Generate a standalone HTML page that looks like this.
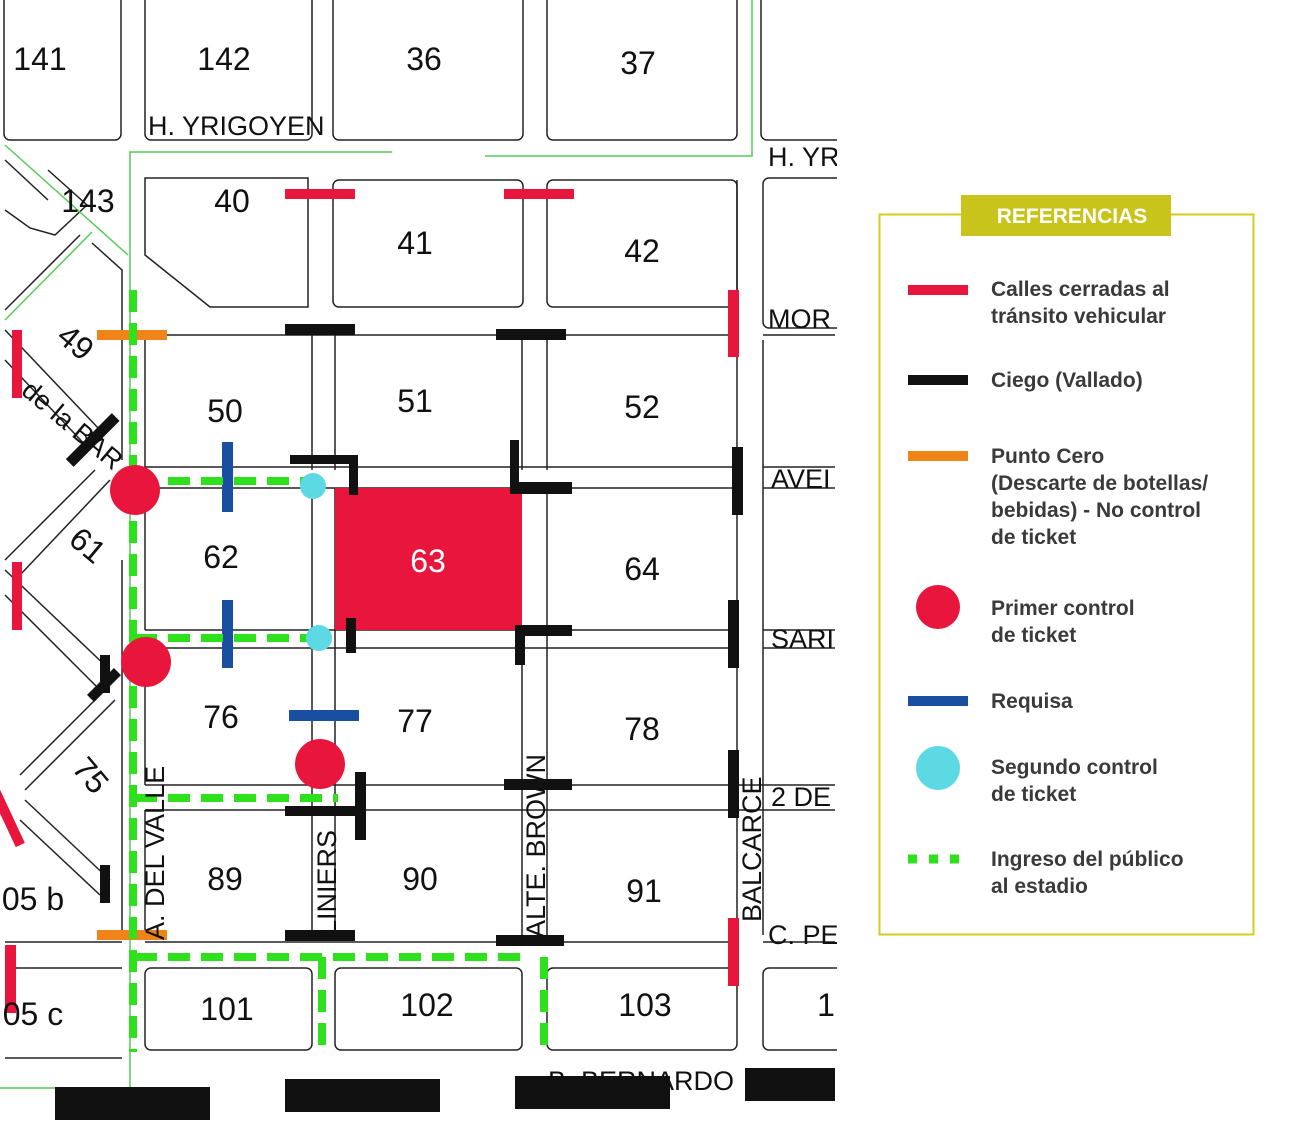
<!DOCTYPE html>
<html><head><meta charset="utf-8"><style>
html,body{margin:0;padding:0;background:#fff;}
body{width:1299px;height:1128px;overflow:hidden;position:relative;font-family:"Liberation Sans",sans-serif;}
svg{position:absolute;left:0;top:0;}
</style></head><body>
<svg width="1299" height="1128" viewBox="0 0 1299 1128" font-family="Liberation Sans, sans-serif">
<g fill="none" stroke="#222" stroke-width="1.5">
<rect x="4" y="-10" width="117" height="150" rx="6"/>
<rect x="145" y="-10" width="167" height="150" rx="6"/>
<rect x="333" y="-10" width="190" height="150" rx="6"/>
<rect x="547" y="-10" width="190" height="150" rx="6"/>
<rect x="761" y="-10" width="90" height="150" rx="6"/>
<path d="M145 178 H308 V307 H210 L145 255 Z"/>
<rect x="333" y="180" width="190" height="127" rx="6"/>
<rect x="547" y="180" width="190" height="127" rx="6"/>
<rect x="763" y="178" width="90" height="150" rx="6"/>
<path d="M48 170 L87 205 L55 235 L30 228 L5 210"/>
<path d="M5 160 L48 200"/>
<path d="M92 243 L122 270 V460"/>
<path d="M80 235 L5 310"/>
<line x1="145" y1="335" x2="737" y2="335"/>
<line x1="145" y1="335" x2="145" y2="470"/>
<line x1="312" y1="335" x2="312" y2="470"/>
<line x1="335" y1="335" x2="335" y2="470"/>
<line x1="522" y1="335" x2="522" y2="470"/>
<line x1="547" y1="335" x2="547" y2="470"/>
<line x1="737" y1="180" x2="737" y2="935"/>
<line x1="763" y1="340" x2="763" y2="935"/>
<line x1="145" y1="467" x2="737" y2="467"/>
<line x1="145" y1="488" x2="737" y2="488"/>
<line x1="145" y1="488" x2="145" y2="630"/>
<line x1="312" y1="488" x2="312" y2="935"/>
<line x1="335" y1="488" x2="335" y2="935"/>
<line x1="547" y1="488" x2="547" y2="935"/>
<line x1="522" y1="630" x2="522" y2="935"/>
<line x1="145" y1="630" x2="737" y2="630"/>
<line x1="145" y1="648" x2="737" y2="648"/>
<line x1="145" y1="648" x2="145" y2="785"/>
<line x1="145" y1="785" x2="835" y2="785"/>
<line x1="145" y1="810" x2="835" y2="810"/>
<line x1="145" y1="810" x2="145" y2="935"/>
<line x1="145" y1="942" x2="737" y2="942"/>
<line x1="5" y1="942" x2="122" y2="942"/>
<line x1="5" y1="968" x2="122" y2="968"/>
<line x1="5" y1="1058" x2="122" y2="1058"/>
<line x1="122" y1="560" x2="122" y2="930"/>
<rect x="145" y="968" width="167" height="82" rx="6"/>
<rect x="335" y="968" width="187" height="82" rx="6"/>
<rect x="547" y="968" width="190" height="82" rx="6"/>
<rect x="763" y="968" width="90" height="82" rx="6"/>
<line x1="763" y1="335" x2="835" y2="335"/>
<line x1="763" y1="467" x2="835" y2="467"/>
<line x1="763" y1="488" x2="835" y2="488"/>
<line x1="763" y1="630" x2="835" y2="630"/>
<line x1="763" y1="648" x2="835" y2="648"/>
<line x1="763" y1="942" x2="835" y2="942"/>
<path d="M5 330 L100 430"/><path d="M5 360 L90 450"/>
<path d="M95 470 L5 560"/><path d="M110 480 L20 575"/>
<path d="M5 570 L110 670"/><path d="M5 595 L100 690"/>
<path d="M105 690 L20 775"/><path d="M115 700 L25 790"/>
<path d="M25 800 L110 880"/><path d="M20 820 L100 895"/>
</g>
<g stroke="#5c5" stroke-width="1.5" fill="none">
<path d="M130 1088 V152 H392"/>
<path d="M485 156 H752 V0"/>
<path d="M5 145 L128 255"/>
<path d="M92 232 L5 320"/>
<path d="M0 1088 H130"/>
</g>
<g fill="#e8163c">
<rect x="285" y="189" width="70" height="10"/>
<rect x="504" y="189" width="70" height="10"/>
<rect x="728" y="290" width="11" height="67"/>
<rect x="12" y="330" width="10" height="68"/>
<rect x="12" y="562" width="10" height="68"/>
<rect x="5" y="945" width="11" height="68"/>
<rect x="728" y="918" width="11" height="68"/>
<rect x="335" y="488" width="187" height="142"/>
</g>
<rect x="0" y="776" width="10" height="68" fill="#e8163c" transform="rotate(-25 15 810)"/>
<g fill="#111">
<rect x="285" y="324" width="70" height="11"/>
<rect x="496" y="329" width="70" height="11"/>
<rect x="732" y="447" width="11" height="68"/>
<rect x="728" y="600" width="11" height="68"/>
<rect x="728" y="750" width="11" height="68"/>
<rect x="504" y="779" width="68" height="11"/>
<rect x="285" y="806" width="70" height="10"/>
<rect x="355" y="772" width="11" height="68"/>
<rect x="285" y="930" width="70" height="11"/>
<rect x="496" y="935" width="68" height="11"/>
<rect x="100" y="655" width="10" height="38"/>
<rect x="100" y="865" width="10" height="38"/>
<path d="M290 455 H358 V495 H349 V464 H290 Z"/>
<path d="M510 440 H519 V482 H572 V494 H510 Z"/>
<path d="M515 625 H572 V636 H525 V665 H515 Z"/>
<rect x="346" y="618" width="10" height="35"/>
<rect x="55" y="1087" width="155" height="33"/>
<rect x="285" y="1079" width="155" height="33"/>
<rect x="515" y="1076" width="155" height="33"/>
<rect x="745" y="1068" width="90" height="33"/>
</g>
<rect x="60" y="435" width="65" height="11" fill="#111" transform="rotate(-45 92 440)"/>
<rect x="85" y="680" width="38" height="10" fill="#111" transform="rotate(-45 104 685)"/>
<rect x="97" y="330" width="70" height="10" fill="#f08418"/>
<rect x="97" y="930" width="70" height="10" fill="#f08418"/>
<g fill="#1a4ea0">
<rect x="222" y="442" width="11" height="70"/>
<rect x="222" y="600" width="11" height="68"/>
<rect x="289" y="710" width="70" height="11"/>
</g>
<g stroke="#2fe01c" stroke-width="8" fill="none" stroke-dasharray="22 11">
<path d="M133 290 V1052"/>
<path d="M168 481 H330"/>
<path d="M135 638 H330"/>
<path d="M135 798 H338"/>
<path d="M135 957 H530"/>
<path d="M322 957 V1052"/>
<path d="M544 957 V1052"/>
</g>
<g fill="#e8163c">
<circle cx="135" cy="490" r="25"/>
<circle cx="146" cy="662" r="25"/>
<circle cx="320" cy="764" r="25"/>
</g>
<g fill="#5cd9e2">
<circle cx="313" cy="486" r="13"/>
<circle cx="319" cy="638" r="13"/>
</g>
<g font-size="32" fill="#111" text-anchor="middle">
<text x="40" y="70">141</text>
<text x="224" y="70">142</text>
<text x="424" y="70">36</text>
<text x="638" y="74">37</text>
<text x="88" y="212">143</text>
<text x="232" y="212">40</text>
<text x="415" y="254">41</text>
<text x="642" y="262">42</text>
<text x="225" y="422">50</text>
<text x="415" y="412">51</text>
<text x="642" y="418">52</text>
<text x="221" y="568">62</text>
<text x="428" y="572" fill="#fff">63</text>
<text x="642" y="580">64</text>
<text x="221" y="728">76</text>
<text x="415" y="732">77</text>
<text x="642" y="740">78</text>
<text x="225" y="890">89</text>
<text x="420" y="890">90</text>
<text x="644" y="902">91</text>
<text x="227" y="1020">101</text>
<text x="427" y="1016">102</text>
<text x="645" y="1016">103</text>
<text x="826" y="1016">1</text>
<text x="33" y="910">05 b</text>
<text x="33" y="1025">05 c</text>
<text x="75" y="353" transform="rotate(40 75 343)">49</text>
<text x="87" y="556" transform="rotate(40 87 546)">61</text>
<text x="90" y="786" transform="rotate(50 90 776)">75</text>
</g>
<g font-size="27" fill="#111">
<text x="148" y="135">H. YRIGOYEN</text>
<text x="768" y="166">H. YR</text>
<text x="768" y="328">MOR</text>
<text x="771" y="488">AVEI</text>
<text x="771" y="648">SARI</text>
<text x="771" y="806">2 DE</text>
<text x="768" y="944">C. PE</text>
<text x="548" y="1090">B. BERNARDO</text>
<text transform="translate(164 940) rotate(-90)">A. DEL VALLE</text>
<text transform="translate(336 935) rotate(-90)">LINIERS</text>
<text transform="translate(545 938) rotate(-90)">ALTE. BROWN</text>
<text transform="translate(761 922) rotate(-90)">BALCARCE</text>
<text transform="translate(20 393) rotate(40)">de la BAR</text>
</g>
<rect x="837" y="0" width="462" height="1128" fill="#fff"/>
<rect x="879.5" y="214.5" width="374" height="720" fill="none" stroke="#d6cc1e" stroke-width="2"/>
<rect x="961" y="195" width="210" height="41" fill="#c9c41c"/>
<text x="1072" y="223" font-size="21" font-weight="bold" fill="#fff" text-anchor="middle">REFERENCIAS</text>
<rect x="908" y="285" width="60" height="10" fill="#e8163c"/>
<rect x="908" y="375" width="60" height="10" fill="#111"/>
<rect x="908" y="451" width="60" height="10" fill="#f08418"/>
<circle cx="938" cy="607" r="22" fill="#e8163c"/>
<rect x="908" y="696" width="60" height="10" fill="#1a4ea0"/>
<circle cx="938" cy="768" r="22" fill="#5cd9e2"/>
<line x1="908" y1="859" x2="968" y2="859" stroke="#2fe01c" stroke-width="9" stroke-dasharray="9 12"/>
<g font-size="21" font-weight="bold" fill="#3a3a3a">
<text x="991" y="296">Calles cerradas al</text>
<text x="991" y="323">tránsito vehicular</text>
<text x="991" y="387">Ciego (Vallado)</text>
<text x="991" y="463">Punto Cero</text>
<text x="991" y="490">(Descarte de botellas/</text>
<text x="991" y="517">bebidas) - No control</text>
<text x="991" y="544">de ticket</text>
<text x="991" y="615">Primer control</text>
<text x="991" y="642">de ticket</text>
<text x="991" y="708">Requisa</text>
<text x="991" y="774">Segundo control</text>
<text x="991" y="801">de ticket</text>
<text x="991" y="866">Ingreso del público</text>
<text x="991" y="893">al estadio</text>
</g>
</svg>
</body></html>
